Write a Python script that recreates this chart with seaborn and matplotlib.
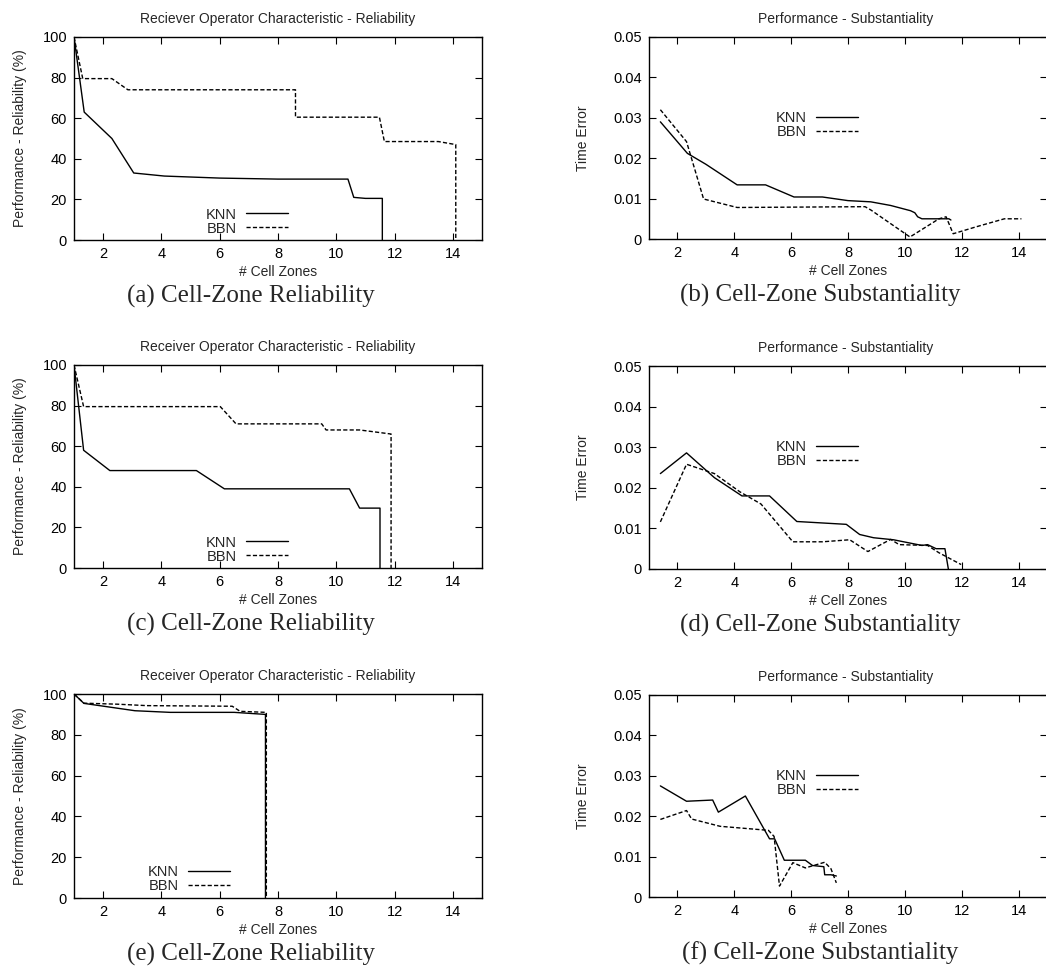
import matplotlib
matplotlib.use('Agg')
import matplotlib.pyplot as plt
import seaborn as sns

# dados
# (a) reliability
a_knn_x = [1.0, 1.35, 2.3, 3.05, 4.1, 6.0, 8.0, 10.4, 10.6, 11.0, 11.58, 11.58]
a_knn_y = [100, 63, 50, 33, 31.5, 30.5, 30.0, 30.0, 21, 20.5, 20.5, 0]
a_bbn_x = [1.0, 1.3, 2.3, 2.85, 8.6, 8.6, 11.48, 11.65, 13.5, 14.1, 14.1]
a_bbn_y = [100, 79.5, 79.5, 74, 74, 60.5, 60.5, 48.5, 48.5, 47, 0]

# (b) substantiality
b_knn_x = [1.4, 2.35, 3.0, 4.1, 5.1, 6.1, 7.1, 8.0, 8.8, 9.5, 10.2, 10.35, 10.45, 10.6, 11.55, 11.62]
b_knn_y = [0.029, 0.0212, 0.0185, 0.0134, 0.0134, 0.0104, 0.0104, 0.0095, 0.0092, 0.0083, 0.007, 0.0065, 0.0055, 0.005, 0.005, 0.0047]
b_bbn_x = [1.4, 2.32, 2.92, 4.1, 8.6, 8.8, 10.18, 11.2, 11.45, 11.7, 12.5, 13.5, 14.1]
b_bbn_y = [0.032, 0.0241, 0.0099, 0.0078, 0.008, 0.0072, 0.0005, 0.005, 0.0055, 0.0013, 0.003, 0.005, 0.005]

# (c) reliability
c_knn_x = [1.0, 1.33, 2.23, 5.2, 6.16, 10.45, 10.8, 11.5, 11.5]
c_knn_y = [100, 58, 48, 48, 39, 39, 29.5, 29.5, 0]
c_bbn_x = [1.0, 1.33, 6.02, 6.56, 9.5, 9.65, 10.8, 11.88, 11.88]
c_bbn_y = [100, 79.5, 79.5, 71, 71, 68, 68, 66, 0]

# (d) substantiality
d_knn_x = [1.4, 2.32, 3.3, 4.27, 5.24, 6.2, 7.94, 8.41, 8.9, 9.6, 10.1, 10.6, 10.8, 11.1, 11.41, 11.53]
d_knn_y = [0.0235, 0.0286, 0.0225, 0.018, 0.018, 0.0117, 0.011, 0.0085, 0.0077, 0.0072, 0.0065, 0.0058, 0.006, 0.005, 0.005, 0.0]
d_bbn_x = [1.4, 2.32, 3.3, 4.2, 4.94, 6.06, 7.1, 8.06, 8.7, 9.5, 9.8, 10.8, 11.2, 11.98]
d_bbn_y = [0.0116, 0.0258, 0.0235, 0.019, 0.016, 0.0067, 0.0067, 0.0072, 0.0043, 0.0073, 0.006, 0.0058, 0.004, 0.0011]

# (e) reliability
e_knn_x = [1.0, 1.34, 3.09, 4.3, 6.5, 7.57, 7.57]
e_knn_y = [100, 95.4, 91.8, 91, 91, 90, 0]
e_bbn_x = [1.0, 1.34, 2.5, 3.5, 6.43, 6.7, 7.6, 7.6]
e_bbn_y = [100, 95.5, 95, 94.3, 94, 91.5, 91, 0]

# (f) substantiality
f_knn_x = [1.4, 2.32, 3.24, 3.44, 4.39, 5.24, 5.42, 5.76, 6.5, 6.75, 7.15, 7.18, 7.4, 7.59]
f_knn_y = [0.0275, 0.0237, 0.024, 0.021, 0.025, 0.0144, 0.0144, 0.0091, 0.0091, 0.0078, 0.0075, 0.0055, 0.0055, 0.0052]
f_bbn_x = [1.4, 2.32, 2.5, 3.5, 5.2, 5.4, 5.59, 6.06, 6.5, 7.18, 7.4, 7.59]
f_bbn_y = [0.0192, 0.0214, 0.0193, 0.0175, 0.0165, 0.015, 0.0027, 0.0085, 0.0072, 0.0086, 0.007, 0.0035]

titulos_rel = ['Reciever Operator Characteristic - Reliability',
               'Receiver Operator Characteristic - Reliability',
               'Receiver Operator Characteristic - Reliability']
legendas = ['(a) Cell-Zone Reliability', '(b) Cell-Zone Substantiality',
            '(c) Cell-Zone Reliability', '(d) Cell-Zone Substantiality',
            '(e) Cell-Zone Reliability', '(f) Cell-Zone Substantiality']
x_ticks = [2, 4, 6, 8, 10, 12, 14]
rel_ticks = [0, 20, 40, 60, 80, 100]
sub_ticks = [0, 0.01, 0.02, 0.03, 0.04, 0.05]
sub_tick_labels = ['0', '0.01', '0.02', '0.03', '0.04', '0.05']

sns.set_style('ticks')
plt.rcParams['font.family'] = ['Liberation Sans', 'DejaVu Sans']

W, H = 1046, 980
fig = plt.figure(figsize=(W / 100, H / 100), dpi=100)

# posicoes (px): esquerda, direita, topo, base
pos_esq = [(74, 482, 37, 240), (74, 482, 365, 568), (74, 482, 694, 898)]
pos_dir = [(649, 1047, 37, 239), (649, 1047, 366, 569), (649, 1047, 695, 897)]

rel_dados = [(a_knn_x, a_knn_y, a_bbn_x, a_bbn_y),
             (c_knn_x, c_knn_y, c_bbn_x, c_bbn_y),
             (e_knn_x, e_knn_y, e_bbn_x, e_bbn_y)]
sub_dados = [(b_knn_x, b_knn_y, b_bbn_x, b_bbn_y),
             (d_knn_x, d_knn_y, d_bbn_x, d_bbn_y),
             (f_knn_x, f_knn_y, f_bbn_x, f_bbn_y)]


def eixo(p):
    l, r, t, b = p
    return fig.add_axes([l / W, 1 - b / H, (r - l) / W, (b - t) / H])


def desenha(ax, dados, leg_loc):
    kx, ky, bx, by = dados
    sns.lineplot(x=kx, y=ky, ax=ax, estimator=None, sort=False, color='black',
                 linewidth=1.0, label='KNN')
    sns.lineplot(x=bx, y=by, ax=ax, estimator=None, sort=False, color='black',
                 linewidth=1.0, label='BBN')
    ax.lines[1].set_dashes([3, 1.6])
    ax.set_xlim(1, 15)
    ax.set_xticks(x_ticks)
    ax.tick_params(direction='in', length=5, width=0.8, top=True, right=True,
                   labelsize=10.5, pad=5, colors='black')
    for s in ax.spines.values():
        s.set_linewidth(1.0)
        s.set_color('black')
    ax.set_xlabel('# Cell Zones', fontsize=10, labelpad=3)
    leg = ax.legend(loc='upper right', bbox_to_anchor=leg_loc, markerfirst=False,
                    frameon=False, fontsize=10.5, handlelength=2.9,
                    handletextpad=0.6, labelspacing=0.0, borderpad=0,
                    borderaxespad=0)
    leg.legend_handles[1].set_dashes([3, 1.6])
    return ax


for i in range(3):
    ax = eixo(pos_esq[i])
    desenha(ax, rel_dados[i], (0.525 if i < 2 else 0.382, 0.16))
    ax.set_ylim(0, 100)
    ax.set_yticks(rel_ticks)
    ax.set_ylabel('Performance - Reliability (%)', fontsize=10, labelpad=11)
    ax.set_title(titulos_rel[i], fontsize=10, pad=10)
    l, r, t, b = pos_esq[i]
    fig.text(251 / W, 1 - (b + 56) / H, legendas[2 * i],
             family='Liberation Serif', fontsize=18, ha='center', va='center')

    ax = eixo(pos_dir[i])
    desenha(ax, sub_dados[i], (0.525, 0.634))
    ax.set_ylim(0, 0.05)
    ax.set_yticks(sub_ticks)
    ax.set_yticklabels(sub_tick_labels)
    ax.set_ylabel('Time Error', fontsize=10, labelpad=17)
    l, r, t, b = pos_dir[i]
    ax.set_title('Performance - Substantiality', fontsize=10, pad=10,
                 x=(846 - l) / (r - l))
    fig.text(820 / W, 1 - (b + 56) / H, legendas[2 * i + 1],
             family='Liberation Serif', fontsize=18, ha='center', va='center')

fig.savefig('out.png', dpi=100)
